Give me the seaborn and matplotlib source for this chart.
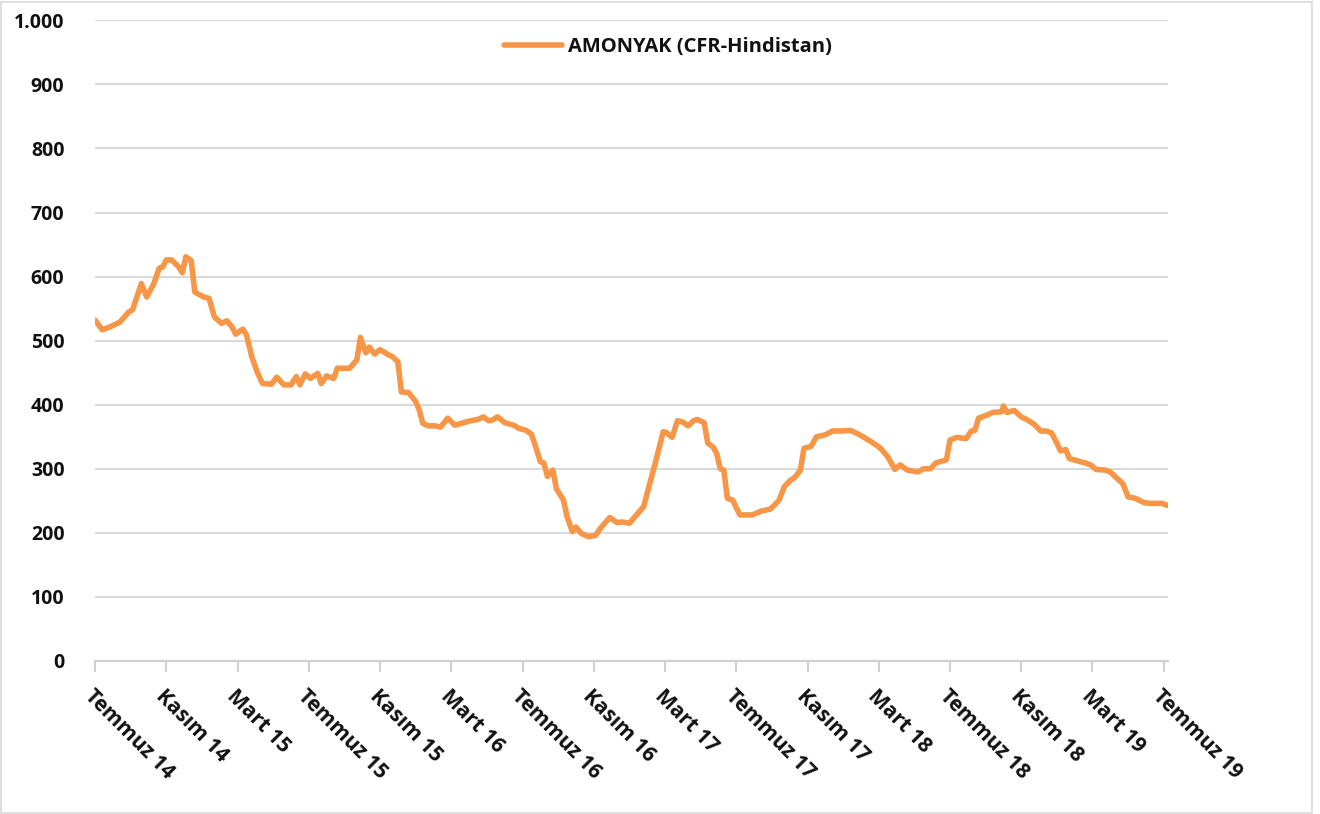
import numpy as np
import pandas as pd
import matplotlib
matplotlib.use('Agg')
import matplotlib.pyplot as plt
import seaborn as sns

# months since Temmuz 2014 and price (USD/t)
months = [
    0.0, 0.4, 0.8, 1.4, 1.9, 2.1, 2.6, 2.9, 3.3, 3.6, 3.8, 4.0, 4.3, 4.7, 4.9,
    5.1, 5.4, 5.6, 6.1, 6.4, 6.7, 7.1, 7.4, 7.7, 7.9, 8.3, 8.5, 8.8, 9.1, 9.4,
    9.9, 10.2, 10.6, 11.0, 11.3, 11.5, 11.8, 12.1, 12.5, 12.7, 13.0, 13.4, 13.6,
    14.3, 14.7, 14.9, 15.2, 15.4, 15.7, 16.0, 16.4, 16.7, 17.0, 17.2, 17.6, 18.0,
    18.2, 18.4, 18.7, 19.1, 19.4, 19.8, 20.2, 20.7, 21.1, 21.5, 21.8, 22.1, 22.3,
    22.6, 23.0, 23.5, 23.8, 24.2, 24.5, 24.8, 25.0, 25.2, 25.4, 25.7, 25.9, 26.3,
    26.5, 26.8, 27.0, 27.3, 27.7, 28.1, 28.4, 28.9, 29.3, 29.6, 30.0, 30.4, 30.8,
    31.1, 31.5, 31.9, 32.1, 32.4, 32.7, 33.0, 33.3, 33.6, 33.8, 34.2, 34.4, 34.7,
    34.9, 35.1, 35.3, 35.5, 35.8, 36.2, 36.9, 37.4, 37.9, 38.1, 38.4, 38.7, 39.0,
    39.3, 39.6, 39.8, 40.2, 40.5, 41.0, 41.4, 41.9, 42.4, 42.8, 43.3, 43.7, 44.1,
    44.5, 44.9, 45.2, 45.6, 46.2, 46.5, 46.9, 47.2, 47.8, 48.0, 48.4, 48.9, 49.2,
    49.4, 49.6, 50.1, 50.4, 50.9, 51.0, 51.2, 51.6, 52.0, 52.3, 52.7, 53.1, 53.4,
    53.7, 54.0, 54.2, 54.5, 54.7, 55.2, 55.6, 55.9, 56.2, 56.7, 57.0, 57.3, 57.7,
    58.0, 58.4, 58.9, 59.3, 59.9, 60.2,
]
prices = [
    532, 517, 521, 529, 545, 548, 589, 568, 589, 613, 615, 626, 626, 615, 606,
    631, 625, 576, 568, 566, 537, 527, 531, 521, 510, 518, 509, 475, 451, 433,
    432, 443, 431, 431, 444, 431, 448, 441, 449, 433, 445, 441, 457,
    457, 470, 505, 481, 490, 479, 486, 479, 475, 467, 420, 419, 405,
    392, 371, 367, 367, 365, 379, 368, 372, 375, 377, 381, 375, 376,
    381, 372, 368, 363, 360, 354, 329, 311, 309, 288, 298, 269, 251,
    225, 202, 209, 199, 194, 196, 208, 224, 216, 217, 215, 228, 241,
    272, 314, 358, 356, 349, 375, 373, 367, 375, 377, 372, 340, 334,
    324, 300, 298, 254, 251, 228, 228, 234, 237, 242, 251, 272, 281,
    287, 298, 332, 335, 350, 353, 359, 359, 360, 355, 347, 340, 332,
    319, 299, 306, 298, 295, 300, 300, 309, 314, 345, 349, 347, 359,
    360, 379, 384, 388, 389, 398, 388, 391, 381, 377, 370, 359, 359,
    356, 340, 328, 330, 316, 312, 309, 306, 299, 298, 295, 287, 277,
    256, 254, 247, 246, 246, 243,
]

tick_months = list(range(0, 61, 4))
tick_labels = [
    "Temmuz 14", "Kasım 14", "Mart 15", "Temmuz 15", "Kasım 15", "Mart 16",
    "Temmuz 16", "Kasım 16", "Mart 17", "Temmuz 17", "Kasım 17", "Mart 18",
    "Temmuz 18", "Kasım 18", "Mart 19", "Temmuz 19",
]
y_ticks = list(range(0, 1001, 100))
y_labels = ["0", "100", "200", "300", "400", "500", "600", "700", "800", "900", "1.000"]

df = pd.DataFrame({"ay": months, "fiyat": prices, "seri": "AMONYAK (CFR-Hindistan)"})

sns.set_style("white")
plt.rcParams['font.family'] = ['Open Sans', 'DejaVu Sans']

fig = plt.figure(figsize=(13.2, 8.14), dpi=100)
ax = fig.add_axes([0.072, 0.188, 0.813, 0.787])

sns.lineplot(data=df, x="ay", y="fiyat", hue="seri", palette=["#F79646"],
             linewidth=4.0, ax=ax, legend=True)

ax.set_xlim(0, 60.25)
ax.set_ylim(0, 1000)
ax.set_yticks(y_ticks)
ax.set_yticklabels(y_labels, fontsize=14, fontweight='bold', color='#111111')
ax.set_xticks(tick_months)
ax.set_xticklabels(tick_labels, rotation=-45, ha='left', va='top',
                   rotation_mode='anchor', fontsize=15, fontweight='bold',
                   color='#111111')
ax.set_xlabel("")
ax.set_ylabel("")

ax.yaxis.grid(True, color='#D9D9D9', linewidth=1.5)
ax.set_axisbelow(True)
for side in ['top', 'right', 'left']:
    ax.spines[side].set_visible(False)
ax.spines['bottom'].set_color('#D0D0D0')
ax.spines['bottom'].set_linewidth(1.5)
ax.tick_params(axis='x', which='major', bottom=True, length=8, width=1.5,
               color='#D0D0D0', pad=10)
ax.tick_params(axis='y', length=0, pad=22)

handles, labels = ax.get_legend_handles_labels()
ax.get_legend().remove()
fig.legend(handles, labels, loc='center', bbox_to_anchor=(0.506, 0.942),
           frameon=False, prop={'weight': 'bold', 'size': 14.5},
           handlelength=2.9, handletextpad=0.3, labelcolor='#111111')

# light frame round the picture
fig.patches.append(plt.Rectangle((0.001, 0.001), 0.993, 0.996, transform=fig.transFigure,
                                 fill=False, edgecolor='#D9D9D9', linewidth=1.2))

fig.savefig("out.png", dpi=100)
